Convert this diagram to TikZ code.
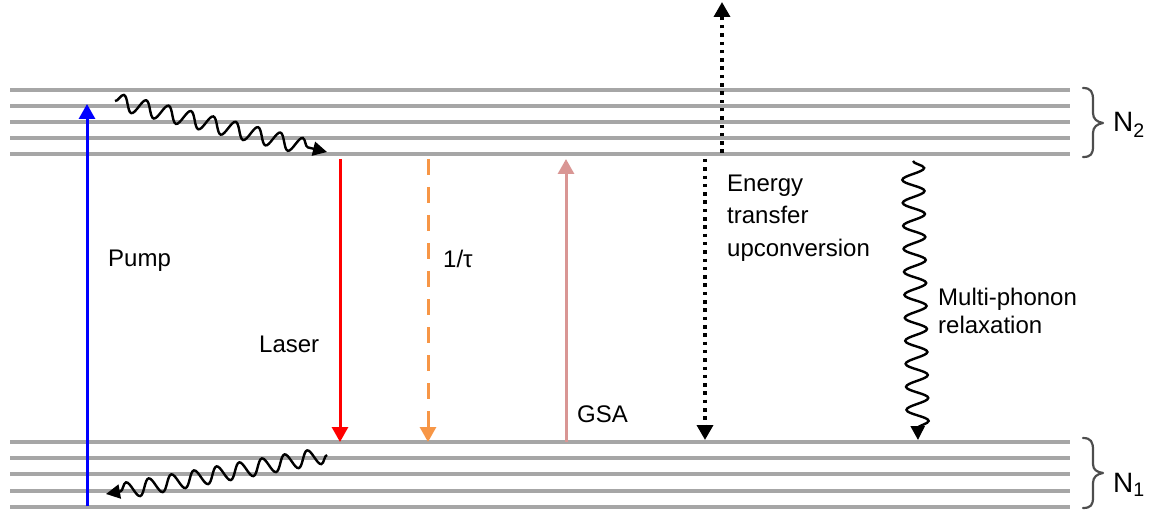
\documentclass[tikz,border=0pt]{standalone}
\usepackage{fontspec}
\setmainfont{Liberation Sans}
\usetikzlibrary{arrows.meta,decorations.pathmorphing}
\definecolor{levelgrey}{HTML}{A6A6A6}
\definecolor{bracegrey}{HTML}{4D4D4D}
\definecolor{pumpblue}{HTML}{0000FF}
\definecolor{laserred}{HTML}{FF0000}
\definecolor{decayorange}{HTML}{F79646}
\definecolor{gsapink}{HTML}{D99694}
\tikzset{
  level/.style={levelgrey, line width=3.5pt},
  tip/.style={-{Triangle[length=15pt,width=16pt]}},
  trans/.style={tip, line width=3pt},
  phonon/.style={-{Triangle[length=14pt,width=14pt]}, line width=2.4pt, decorate,
    decoration={snake, amplitude=8pt, segment length=23pt, post length=11pt}},
  label/.style={anchor=base west, inner sep=0pt, font=\fontsize{24}{28}\selectfont, align=left},
  nlabel/.style={anchor=base west, inner sep=0pt, font=\fontsize{28}{32}\selectfont},
  levelbrace/.style={bracegrey, line width=2.2pt, line cap=round, line join=round},
  dots/.style={tip, line width=3.5pt, dash pattern=on 3.5pt off 4.8pt}
}
\begin{document}
\begin{tikzpicture}[x=1pt,y=-1pt]
\useasboundingbox (0,0) rectangle (1157,513);

% upper manifold N2
\foreach \y in {90,106,122,138,154}
  \draw[level] (10,\y) -- (1070,\y);
% lower manifold N1
\foreach \y in {442,458,474,491,507}
  \draw[level] (10,\y) -- (1070,\y);

% end points of the transitions
\coordinate (pumpA) at (87,506);
\coordinate (pumpB) at (87,104);
\coordinate (laserA) at (340,159);
\coordinate (laserB) at (340,442);
\coordinate (tauA) at (428,159);
\coordinate (tauB) at (428,442);
\coordinate (gsaA) at (566,442);
\coordinate (gsaB) at (566,159);
\coordinate (etuUpA) at (722,153);
\coordinate (etuUpB) at (722,2);
\coordinate (etuDnA) at (705,159);
\coordinate (etuDnB) at (705,440);
\coordinate (mpA) at (913,161);
\coordinate (mpB) at (918,440);
\coordinate (relUpA) at (115,101);
\coordinate (relUpB) at (327,152);
\coordinate (relLoA) at (327,455);
\coordinate (relLoB) at (106,494);

% radiative and non-radiative transitions
\draw[trans, pumpblue] (pumpA) -- (pumpB);
\draw[trans, laserred] (laserA) -- (laserB);
\draw[trans, decayorange, dash pattern=on 16pt off 12pt] (tauA) -- (tauB);
\draw[trans, gsapink] (gsaA) -- (gsaB);
\draw[dots] (etuUpA) -- (etuUpB);
\draw[dots] (etuDnA) -- (etuDnB);
\draw[phonon, decoration={amplitude=11pt}] (mpA) -- (mpB);
\draw[phonon] (relUpA) -- (relUpB);
\draw[phonon] (relLoA) -- (relLoB);

% labels (base anchor sits on the last line)
\node[label] (pump) at (108,267) {Pump};
\node[label] (laser) at (259,352) {Laser};
\node[label] (tau) at (443,268) {1/τ};
\node[label] (gsa) at (577,422) {GSA};
\node[label, font=\fontsize{24}{33}\selectfont] (etu) at (727,257) {Energy\\transfer\\upconversion};
\node[label] (mp) at (938,333) {Multi-phonon\\relaxation};

% manifold braces
\draw[levelbrace] (1083,88) .. controls (1091,88) and (1093,92) .. (1093,100)
  -- (1093,113) .. controls (1093,119) and (1097,122) .. (1103,123)
  .. controls (1097,124) and (1093,127) .. (1093,133)
  -- (1093,146) .. controls (1093,154) and (1091,157) .. (1083,157);
\draw[levelbrace] (1083,438) .. controls (1091,438) and (1093,442) .. (1093,450)
  -- (1093,464) .. controls (1093,470) and (1097,472) .. (1103,473)
  .. controls (1097,474) and (1093,477) .. (1093,483)
  -- (1093,497) .. controls (1093,505) and (1091,508) .. (1083,508);
\node[nlabel] (n2) at (1113,132) {N\textsubscript{2}};
\node[nlabel] (n1) at (1113,492) {N\textsubscript{1}};
\end{tikzpicture}
\end{document}
